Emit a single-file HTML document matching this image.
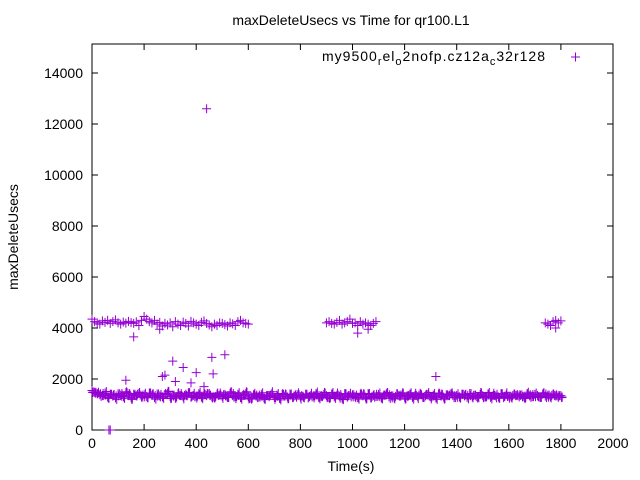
<!DOCTYPE html>
<html><head><meta charset="utf-8"><style>
body{margin:0;background:#fff}
svg{display:block;font-family:"Liberation Sans",sans-serif}
</style></head><body>
<svg id="chart" width="640" height="480">
<rect x="0" y="0" width="640" height="480" fill="#fff"/>
<text x="351" y="25" font-size="14" text-anchor="middle">maxDeleteUsecs vs Time for qr100.L1</text>
<text x="351" y="471" font-size="14" text-anchor="middle">Time(s)</text>
<text transform="translate(18,237) rotate(-90)" font-size="14" text-anchor="middle">maxDeleteUsecs</text>
<g id="axes"></g>
<g id="marks"></g>
<g>
<text x="322" y="61" font-size="14" textLength="223" lengthAdjust="spacing">my9500<tspan font-size="11" dy="4">r</tspan><tspan dy="-4">el</tspan><tspan font-size="11" dy="4">o</tspan><tspan dy="-4">2nofp.cz12a</tspan><tspan font-size="11" dy="4">c</tspan><tspan dy="-4">32r128</tspan></text>
<path d="M571,57h9M575.5,52.5v9" stroke="#9400d3" stroke-width="1"/>
</g>
</svg>
<script>
const xTicks=[0,200,400,600,800,1000,1200,1400,1600,1800,2000];
const yTicks=[0,2000,4000,6000,8000,10000,12000,14000];
const bandStart=0, bandStep=10;
const bandValues=[1550,1480,1420,1380,1350,1450,1300,1400,1330,1260,1420,1370,1300,1460,1350,1280,1400,1340,1430,1290,
1380,1320,1450,1360,1270,1410,1340,1300,1390,1440,1310,1370,1250,1420,1350,1300,1400,1460,1280,1360,
1330,1420,1290,1380,1350,1430,1300,1260,1410,1370,1320,1390,1280,1440,1350,1310,1400,1270,1360,1420,
1300,1250,1380,1330,1290,1400,1260,1350,1310,1420,1280,1370,1240,1390,1330,1300,1410,1270,1350,1380,
1290,1320,1400,1260,1360,1340,1430,1280,1310,1390,1350,1270,1410,1300,1370,1330,1250,1420,1290,1360,
1380,1310,1270,1400,1340,1290,1430,1260,1350,1320,1390,1280,1370,1410,1300,1340,1260,1420,1330,1380,
1290,1350,1400,1270,1360,1310,1440,1280,1340,1390,1300,1370,1260,1410,1330,1290,1380,1350,1420,1270,
1360,1310,1400,1340,1280,1430,1300,1370,1260,1390,1350,1320,1410,1280,1360,1340,1300,1420,1270,1380,1330,
1290,1410,1350,1300,1380,1270,1420,1340,1310,1390,1360,1280,1400,1330,1370,1300,1410,1340,1280,1350];
const upperTimes=[0,10,20,30,40,50,60,70,80,90,100,110,120,130,140,150,160,170,180,190,200,210,220,230,240,250,260,270,280,290,300,310,320,330,340,350,360,370,380,390,400,410,420,430,440,450,460,470,480,490,500,510,520,530,540,550,560,570,580,590,600,
900,910,920,930,940,950,960,970,980,990,1000,1010,1020,1030,1040,1050,1060,1070,1080,1090,
1740,1750,1760,1770,1780,1790,1800];
const upperValues=[4350,4250,4200,4150,4280,4220,4300,4180,4250,4320,4200,4150,4230,4190,4260,4210,4180,4240,4100,4300,4450,4350,4250,4200,4300,4150,4220,4080,4180,4120,4200,4050,4250,4150,4100,4230,4180,4080,4260,4200,4150,4100,4220,4280,4180,4120,4050,4150,4100,4200,4180,4130,4080,4200,4160,4100,4250,4300,4200,4180,4150,
4200,4250,4180,4150,4220,4300,4150,4200,4250,4350,4180,4200,4100,4250,4150,4200,4150,4100,4180,4250,
4200,4150,4100,4250,4300,4200,4280];
const outlierTimes=[65,70,130,160,260,270,280,310,320,350,380,400,430,440,460,465,510,1020,1060,1320,1780];
const outlierValues=[0,0,1950,3650,3950,2100,2150,2700,1900,2450,1850,2250,1700,12600,2850,2200,2950,3800,3950,2100,4000];
const X0=92,X1=613,Y0=430,Y1=44;
const xs=v=>X0+(v-0)/2000*(X1-X0);
const ys=v=>Y0-(v-0)/14000*357;
const NS="http://www.w3.org/2000/svg";
const axes=document.getElementById('axes'), marks=document.getElementById('marks');
function mk(tag,attrs,parent){const e=document.createElementNS(NS,tag);for(const k in attrs)e.setAttribute(k,attrs[k]);parent.appendChild(e);return e;}
const frame=mk('rect',{x:X0,y:Y1,width:X1-X0,height:Y0-Y1,fill:'none',stroke:'#000','stroke-width':1},axes);


xTicks.forEach(t=>{const x=xs(t);
 const p=mk('path',{d:`M${x},${Y0}v-6M${x},${Y1}v6`,stroke:'#000'},axes);
 
 
 const l=mk('text',{x:x,y:Y0+18,'font-size':14,'text-anchor':'middle'},axes);l.textContent=t;
 
 });
yTicks.forEach(t=>{const y=ys(t);
 const p=mk('path',{d:`M${X0},${y}h6M${X1},${y}h-6`,stroke:'#000'},axes);
 
 
 const l=mk('text',{x:X0-9,y:y+5,'font-size':14,'text-anchor':'end'},axes);l.textContent=t;
 
 });
function plus(t,v){const x=xs(t),y=ys(v);
 const p=mk('path',{d:`M${x-4.5},${y}h9M${x},${y-4.5}v9`,stroke:'#9400d3','stroke-width':1},marks);
 
 }
bandValues.forEach((v,i)=>{const t=bandStart+i*bandStep;plus(t,v);plus(t+5,v+((i%3)-1)*60);plus(t+2.5,v-80+(i%5)*40);});
upperValues.forEach((v,i)=>plus(upperTimes[i],v));
outlierValues.forEach((v,i)=>plus(outlierTimes[i],v));
</script>
</body></html>
